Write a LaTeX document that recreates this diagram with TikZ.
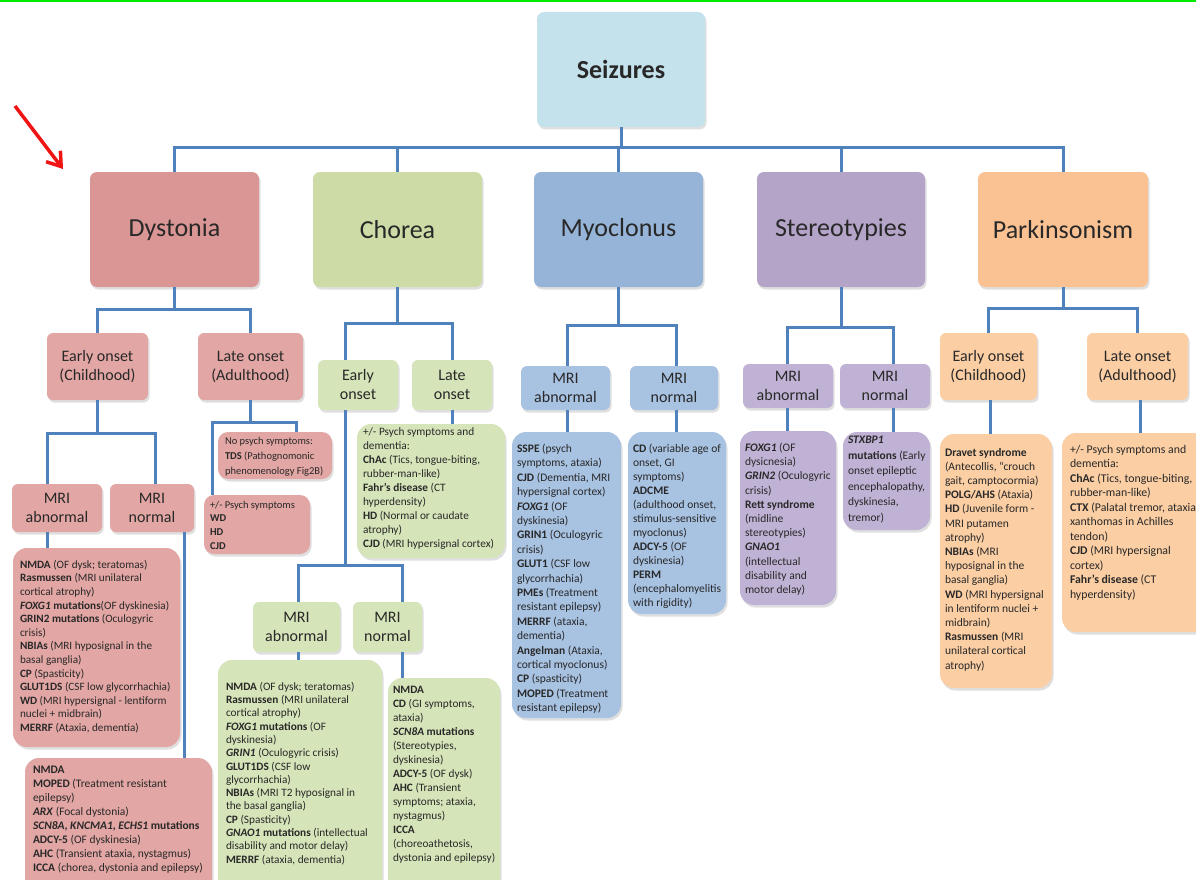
\documentclass[tikz,border=0pt]{standalone}
\usepackage{fontspec}
\setmainfont{Carlito}
\usetikzlibrary{shadows,arrows.meta,calc}
\definecolor{seizc}{RGB}{196,226,236}
\definecolor{dysc}{RGB}{218,150,148}
\definecolor{dyss}{RGB}{226,166,164}
\definecolor{choc}{RGB}{205,220,166}
\definecolor{chos}{RGB}{214,228,185}
\definecolor{myoc}{RGB}{150,180,215}
\definecolor{myos}{RGB}{168,194,226}
\definecolor{stec}{RGB}{180,164,200}
\definecolor{stes}{RGB}{192,178,212}
\definecolor{parc}{RGB}{250,194,146}
\definecolor{pars}{RGB}{251,206,164}
\definecolor{linec}{RGB}{79,129,189}
\definecolor{txtc}{RGB}{40,40,40}
\definecolor{arrowred}{RGB}{240,20,20}
\definecolor{topgreen}{RGB}{0,235,0}
\newcommand\B[1]{\textbf{#1}}
\newcommand\BI[1]{\textbf{\itshape #1}}
\newcommand\mkbox[7]{\node[#6, minimum width={(#4-#2)*1pt}, minimum height={(#5-#3)*1pt}] (#1) at ({(#2+#4)/2},{(#3+#5)/2}) {#7};}
\tikzset{
  boxbase/.style={inner sep=0pt, drop shadow={shadow xshift=1.5pt, shadow yshift=-2.5pt, opacity=0.25}},
  topbox/.style={boxbase, rounded corners=7pt, fill=#1, text=txtc, font=\fontsize{26}{30}\selectfont},
  subbox/.style={boxbase, rounded corners=6pt, fill=#1, text=txtc, align=center, font=\fontsize{16}{19}\selectfont},
  bigbox/.style={boxbase, rounded corners=14pt, fill=#1},
  txt/.style 2 args={inner sep=0pt, anchor=north west, align=left, text=txtc, font=\fontsize{#1}{#2}\selectfont},
  conn/.style={draw=linec, line width=3pt},
}
\begin{document}
\begin{tikzpicture}[x=1pt,y=-1pt]
\useasboundingbox (0,0) rectangle (1196,880);
\clip (0,0) rectangle (1196,880);
\fill[white] (0,0) rectangle (1196,880);
\fill[topgreen] (0,0) rectangle (1196,2.5);
% red arrow
\coordinate (arrS) at (15,106);
\coordinate (arrE) at (63,169);
\draw[arrowred, line width=3.5pt, -{Straight Barb[length=13pt,width=18pt,line width=3.5pt]}] (arrS) -- (arrE);

% level 0 and 1
\mkbox{seiz}{537}{12}{705}{127}{topbox=seizc, font=\fontsize{26}{30}\selectfont\bfseries}{Seizures}
\mkbox{dys}{90}{172}{259}{287}{topbox=dysc}{Dystonia}
\mkbox{cho}{313}{172}{482}{287}{topbox=choc}{Chorea}
\mkbox{myo}{534}{172}{703}{287}{topbox=myoc}{Myoclonus}
\mkbox{ste}{757}{172}{925}{287}{topbox=stec}{Stereotypies}
\mkbox{par}{978}{172}{1148}{287}{topbox=parc}{Parkinsonism}

% Dystonia subtree
\mkbox{dE}{47}{333}{148}{400}{subbox=dyss}{Early onset\\(Childhood)}
\mkbox{dL}{198}{333}{303}{400}{subbox=dyss}{Late onset\\(Adulthood)}
\mkbox{dA}{12}{484}{102}{532}{subbox=dyss}{MRI\\abnormal}
\mkbox{dN}{110}{484}{194}{532}{subbox=dyss}{MRI\\normal}
\mkbox{d1}{13}{548}{180}{747}{bigbox=dyss}{}
\mkbox{d2}{25}{758}{212}{905}{bigbox=dyss}{}
\mkbox{dLa}{218}{432}{332}{479}{bigbox=dyss, rounded corners=10pt}{}
\mkbox{dLb}{204}{495}{310}{554}{bigbox=dyss, rounded corners=10pt}{}

% Chorea subtree
\mkbox{cE}{318}{360}{398}{410}{subbox=chos}{Early\\onset}
\mkbox{cL}{412}{360}{492}{410}{subbox=chos}{Late\\onset}
\mkbox{cLt}{357}{424}{505}{558}{bigbox=chos}{}
\mkbox{cA}{253}{602}{340}{652}{subbox=chos}{MRI\\abnormal}
\mkbox{cN}{353}{602}{422}{652}{subbox=chos}{MRI\\normal}
\mkbox{c1}{218}{660}{382}{905}{bigbox=chos}{}
\mkbox{c2}{388}{678}{500}{905}{bigbox=chos}{}

% Myoclonus subtree
\mkbox{mA}{521}{366}{610}{410}{subbox=myos}{MRI\\abnormal}
\mkbox{mN}{630}{366}{718}{410}{subbox=myos}{MRI\\normal}
\mkbox{m1}{512}{432}{621}{718}{bigbox=myos}{}
\mkbox{m2}{628}{432}{726}{614}{bigbox=myos}{}

% Stereotypies subtree
\mkbox{sA}{743}{364}{833}{408}{subbox=stes}{MRI\\abnormal}
\mkbox{sN}{840}{364}{930}{408}{subbox=stes}{MRI\\normal}
\mkbox{s1}{740}{431}{836}{605}{bigbox=stes}{}
\mkbox{s2}{843}{432}{930}{530}{bigbox=stes}{}

% Parkinsonism subtree
\mkbox{pE}{940}{333}{1037}{400}{subbox=pars}{Early onset\\(Childhood)}
\mkbox{pL}{1087}{333}{1188}{400}{subbox=pars}{Late onset\\(Adulthood)}
\mkbox{p1}{940}{434}{1052}{688}{bigbox=pars}{}
\mkbox{p2}{1062}{433}{1215}{632}{bigbox=pars}{}

% connectors
\foreach \c in {dys,cho,myo,ste,par}
  \draw[conn] (seiz.south) -- (seiz.south |- 0,147) -| (\c.north);
\draw[conn] (dys.south) -- (dys.south |- 0,309) -| (97,0 |- dE.north);
\draw[conn] (dys.south) -- (dys.south |- 0,309) -| (250,0 |- dL.north);
\draw[conn] (97,0 |- dE.south) -- (97,433) -| (47,0 |- dA.north);
\draw[conn] (97,0 |- dE.south) -- (97,433) -| (155,0 |- dN.north);
\draw[conn] (47,0 |- dA.south) -- (47,0 |- d1.north);
\draw[conn] (184,0 |- dN.south) -- (184,0 |- d2.north);
\draw[conn] (250,0 |- dL.south) -- (250,422) -| (296,0 |- dLa.north);
\draw[conn] (250,0 |- dL.south) -- (250,422) -| (212,0 |- dLb.north);

\draw[conn] (cho.south) -- (cho.south |- 0,323) -| (345,0 |- cE.north);
\draw[conn] (cho.south) -- (cho.south |- 0,323) -| (452,0 |- cL.north);
\draw[conn] (452,0 |- cL.south) -- (452,0 |- cLt.north);
\draw[conn] (345,0 |- cE.south) -- (345,565) -| (298,0 |- cA.north);
\draw[conn] (345,0 |- cE.south) -- (345,565) -| (402,0 |- cN.north);
\draw[conn] (298,0 |- cA.south) -- (298,0 |- c1.north);
\draw[conn] (402,0 |- cN.south) -- (402,0 |- c2.north);

\draw[conn] (myo.south) -- (myo.south |- 0,325) -| (567,0 |- mA.north);
\draw[conn] (myo.south) -- (myo.south |- 0,325) -| (676,0 |- mN.north);
\draw[conn] (567,0 |- mA.south) -- (567,0 |- m1.north);
\draw[conn] (676,0 |- mN.south) -- (676,0 |- m2.north);

\draw[conn] (ste.south) -- (ste.south |- 0,327) -| (787,0 |- sA.north);
\draw[conn] (ste.south) -- (ste.south |- 0,327) -| (893,0 |- sN.north);
\draw[conn] (787,0 |- sA.south) -- (787,0 |- s1.north);
\draw[conn] (893,0 |- sN.south) -- (893,0 |- s2.north);

\draw[conn] (par.south) -- (par.south |- 0,308) -| (988,0 |- pE.north);
\draw[conn] (par.south) -- (par.south |- 0,308) -| (1137,0 |- pL.north);
\draw[conn] (990,0 |- pE.south) -- (990,0 |- p1.north);
\draw[conn] (1140,0 |- pL.south) -- (1140,0 |- p2.north);

% texts
\node[txt={11.2}{13.6}] (d1t) at ([xshift=7pt,yshift=-12pt]d1.north west) {%
\B{NMDA} (OF dysk; teratomas)\\
\B{Rasmussen} (MRI unilateral\\
cortical atrophy)\\
\BI{FOXG1} \B{mutations}(OF dyskinesia)\\
\B{GRIN2 mutations} (Oculogyric\\
crisis)\\
\B{NBIAs} (MRI hyposignal in the\\
basal ganglia)\\
\B{CP} (Spasticity)\\
\B{GLUT1DS} (CSF low glycorrhachia)\\
\B{WD} (MRI hypersignal - lentiform\\
nuclei + midbrain)\\
\B{MERRF} (Ataxia, dementia)};

\node[txt={11.5}{14}] (d2t) at ([xshift=8pt,yshift=-8pt]d2.north west) {%
\B{NMDA}\\
\B{MOPED} (Treatment resistant\\
epilepsy)\\
\BI{ARX} (Focal dystonia)\\
\BI{SCN8A}\B{, }\BI{KNCMA1}\B{, }\BI{ECHS1}\B{ mutations}\\
\B{ADCY-5} (OF dyskinesia)\\
\B{AHC} (Transient ataxia, nystagmus)\\
\B{ICCA} (chorea, dystonia and epilepsy)};

\node[txt={10.5}{15}] (dLat) at ([xshift=7pt,yshift=-5pt]dLa.north west) {%
No psych symptoms:\\
\B{TDS} (Pathognomonic\\
phenomenology Fig2B)};

\node[txt={10.5}{13.6}] (dLbt) at ([xshift=6pt,yshift=-6pt]dLb.north west) {%
+/- Psych symptoms\\
\B{WD}\\
\B{HD}\\
\B{CJD}};

\node[txt={11.3}{14}] (cLtt) at ([xshift=6pt,yshift=-4pt]cLt.north west) {%
+/- Psych symptoms and\\
dementia:\\
\B{ChAc} (Tics, tongue-biting,\\
rubber-man-like)\\
\B{Fahr's disease} (CT\\
hyperdensity)\\
\B{HD} (Normal or caudate\\
atrophy)\\
\B{CJD} (MRI hypersignal cortex)};

\node[txt={11.3}{13.3}] (c1t) at ([xshift=8pt,yshift=-22pt]c1.north west) {%
\B{NMDA} (OF dysk; teratomas)\\
\B{Rasmussen} (MRI unilateral\\
cortical atrophy)\\
\BI{FOXG1}\B{ mutations} (OF\\
dyskinesia)\\
\BI{GRIN1} (Oculogyric crisis)\\
\B{GLUT1DS} (CSF low\\
glycorrhachia)\\
\B{NBIAs} (MRI T2 hyposignal in\\
the basal ganglia)\\
\B{CP} (Spasticity)\\
\BI{GNAO1}\B{ mutations} (intellectual\\
disability and motor delay)\\
\B{MERRF} (ataxia, dementia)};

\node[txt={11.3}{14}] (c2t) at ([xshift=5pt,yshift=-8pt]c2.north west) {%
\B{NMDA}\\
\B{CD} (GI symptoms,\\
ataxia)\\
\BI{SCN8A}\B{ mutations}\\
(Stereotypies,\\
dyskinesia)\\
\B{ADCY-5} (OF dysk)\\
\B{AHC} (Transient\\
symptoms; ataxia,\\
nystagmus)\\
\B{ICCA}\\
(choreoathetosis,\\
dystonia and epilepsy)};

\node[txt={11.5}{14.4}] (m1t) at ([xshift=5pt,yshift=-12pt]m1.north west) {%
\B{SSPE} (psych\\
symptoms, ataxia)\\
\B{CJD} (Dementia, MRI\\
hypersignal cortex)\\
\BI{FOXG1} (OF\\
dyskinesia)\\
\B{GRIN1} (Oculogyric\\
crisis)\\
\B{GLUT1} (CSF low\\
glycorrhachia)\\
\B{PMEs} (Treatment\\
resistant epilepsy)\\
\B{MERRF} (ataxia,\\
dementia)\\
\B{Angelman} (Ataxia,\\
cortical myoclonus)\\
\B{CP} (spasticity)\\
\B{MOPED} (Treatment\\
resistant epilepsy)};

\node[txt={11.5}{14}] (m2t) at ([xshift=5pt,yshift=-12pt]m2.north west) {%
\B{CD} (variable age of\\
onset, GI\\
symptoms)\\
\B{ADCME}\\
(adulthood onset,\\
stimulus-sensitive\\
myoclonus)\\
\B{ADCY-5} (OF\\
dyskinesia)\\
\B{PERM}\\
(encephalomyelitis\\
with rigidity)};

\node[txt={11.5}{14.2}] (s1t) at ([xshift=5pt,yshift=-12pt]s1.north west) {%
\BI{FOXG1} (OF\\
dysicnesia)\\
\BI{GRIN2} (Oculogyric\\
crisis)\\
\B{Rett syndrome}\\
(midline\\
stereotypies)\\
\BI{GNAO1}\\
(intellectual\\
disability and\\
motor delay)};

\node[txt={11.5}{15.5}] (s2t) at ([xshift=5pt,yshift=-4pt]s2.north west) {%
\BI{STXBP1}\\
\B{mutations} (Early\\
onset epileptic\\
encephalopathy,\\
dyskinesia,\\
tremor)};

\node[txt={11.5}{14.2}] (p1t) at ([xshift=5pt,yshift=-14pt]p1.north west) {%
\B{Dravet syndrome}\\
(Antecollis, ``crouch\\
gait, camptocormia)\\
\B{POLG/AHS} (Ataxia)\\
\B{HD} (Juvenile form -\\
MRI putamen\\
atrophy)\\
\B{NBIAs} (MRI\\
hyposignal in the\\
basal ganglia)\\
\B{WD} (MRI hypersignal\\
in lentiform nuclei +\\
midbrain)\\
\B{Rasmussen} (MRI\\
unilateral cortical\\
atrophy)};

\node[txt={11.8}{14.5}] (p2t) at ([xshift=8pt,yshift=-12pt]p2.north west) {%
+/- Psych symptoms and\\
dementia:\\
\B{ChAc} (Tics, tongue-biting,\\
rubber-man-like)\\
\B{CTX} (Palatal tremor, ataxia,\\
xanthomas in Achilles\\
tendon)\\
\B{CJD} (MRI hypersignal\\
cortex)\\
\B{Fahr's disease} (CT\\
hyperdensity)};
\end{tikzpicture}
\end{document}
